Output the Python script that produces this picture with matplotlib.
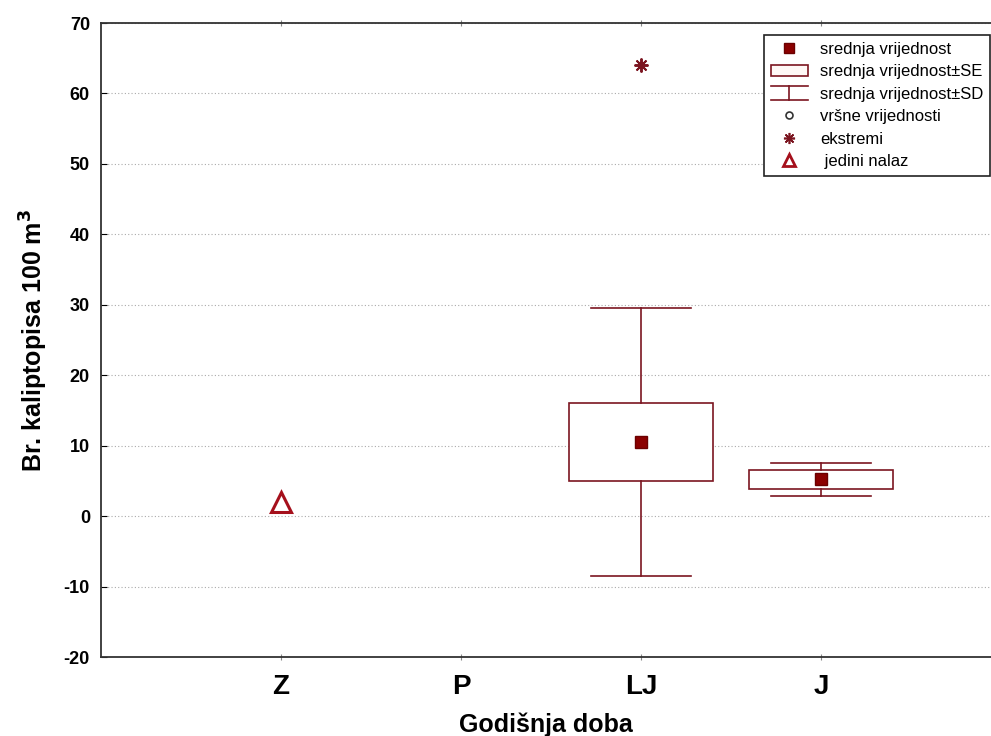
import matplotlib
matplotlib.use('Agg')
import matplotlib.pyplot as plt
from matplotlib.lines import Line2D
from matplotlib.patches import Rectangle
from matplotlib.legend_handler import HandlerBase

# data
categories = ['Z', 'P', 'LJ', 'J']
box_pos = [3, 4]              # LJ, J
means = [10.5, 5.2]
se = [5.55, 1.3]
sd = [19.0, 2.3]
extremes = [[64.0], []]
single_pos = [1]              # Z: only one find
single_val = [2.0]

dark = '#7b1520'
red = '#a5101c'

plt.rcParams['font.family'] = ['Liberation Sans', 'DejaVu Sans']
plt.rcParams['axes.unicode_minus'] = False


class HandlerWhisker(HandlerBase):
    # I-beam symbol for mean +- SD
    def create_artists(self, legend, orig_handle, xdescent, ydescent,
                       width, height, fontsize, trans):
        x0, x1 = -xdescent, -xdescent + width
        cx = (x0 + x1) / 2
        y0, y1 = -ydescent - 0.1 * height, -ydescent + 1.1 * height
        segs = [([x0, x1], [y1, y1]), ([cx, cx], [y0, y1]), ([x0, x1], [y0, y0])]
        out = []
        for xs, ys in segs:
            ln = Line2D(xs, ys, color=dark, lw=1.2)
            ln.set_transform(trans)
            out.append(ln)
        return out


fig = plt.figure(figsize=(9.91, 7.36), dpi=100)
ax = fig.add_axes([101 / 991, 79 / 736, 890 / 991, 634 / 736])

stats = []
for m, s, d, ex in zip(means, se, sd, extremes):
    stats.append(dict(med=m, mean=m, q1=m - s, q3=m + s,
                      whislo=m - d, whishi=m + d, fliers=ex))

ax.bxp(stats, positions=box_pos, widths=0.8, capwidths=0.556,
       showmeans=True, patch_artist=True,
       boxprops=dict(facecolor='white', edgecolor=dark, linewidth=1.2),
       whiskerprops=dict(color=dark, linewidth=1.2),
       capprops=dict(color=dark, linewidth=1.2),
       medianprops=dict(linewidth=0),
       meanprops=dict(marker='s', markerfacecolor='#8b0000',
                      markeredgecolor='#6b0000', markersize=8),
       flierprops=dict(marker=(8, 2, 0), markeredgecolor=dark,
                       markersize=10, markeredgewidth=1.4))

ax.plot(single_pos, single_val, linestyle='none', marker='^', markersize=15,
        markerfacecolor='none', markeredgecolor=red, markeredgewidth=2.2)

ax.set_xlim(0, 890 / 180)
ax.set_ylim(-20, 70)
ax.set_xticks(range(1, len(categories) + 1))
ax.set_xticklabels(categories, fontsize=20, fontweight='bold')
ax.set_yticks(range(-20, 71, 10))
for lab in ax.get_yticklabels():
    lab.set_fontsize(13)
    lab.set_fontweight('bold')
ax.tick_params(axis='x', direction='inout', length=5, top=True, pad=10, color='#888888')
ax.tick_params(axis='y', direction='in', length=4, pad=8)
ax.yaxis.grid(True, linestyle=(0, (1, 2)), color='#aaaaaa', linewidth=0.8)
ax.set_axisbelow(True)
ax.spines['right'].set_visible(False)
for sp in ['left', 'top', 'bottom']:
    ax.spines[sp].set_color('#333333')
    ax.spines[sp].set_linewidth(1.3)

ax.set_xlabel('Godišnja doba', fontsize=18, fontweight='bold', labelpad=9)
ax.set_ylabel('Br. kaliptopisa 100 m$^\\mathbf{3}$', fontsize=18, fontweight='bold',
              labelpad=10)

whisk = Line2D([], [])
handles = [
    Line2D([], [], linestyle='none', marker='s', markersize=7,
           markerfacecolor='#8b0000', markeredgecolor='#6b0000'),
    Rectangle((0, 0), 1, 1, facecolor='#fff8f6', edgecolor=dark, linewidth=1.2),
    whisk,
    Line2D([], [], linestyle='none', marker='o', markersize=5,
           markerfacecolor='none', markeredgecolor='#333333', markeredgewidth=1.2),
    Line2D([], [], linestyle='none', marker=(8, 2, 0), markersize=8,
           markeredgecolor=dark, markeredgewidth=1.2),
    Line2D([], [], linestyle='none', marker='^', markersize=8,
           markerfacecolor='none', markeredgecolor=red, markeredgewidth=2),
]
labels = ['srednja vrijednost', 'srednja vrijednost±SE', 'srednja vrijednost±SD',
          'vršne vrijednosti', 'ekstremi', ' jedini nalaz']
leg = ax.legend(handles, labels, loc='upper right',
                bbox_to_anchor=(990 / 991, 1 - 35 / 736), bbox_transform=fig.transFigure,
                borderaxespad=0, fancybox=False, framealpha=1, edgecolor='#222222',
                fontsize=12, labelspacing=0.45, handlelength=2.2, handletextpad=0.75,
                borderpad=0.4, handler_map={whisk: HandlerWhisker()})
leg.get_frame().set_linewidth(1.2)

fig.savefig('out.png', dpi=100)
